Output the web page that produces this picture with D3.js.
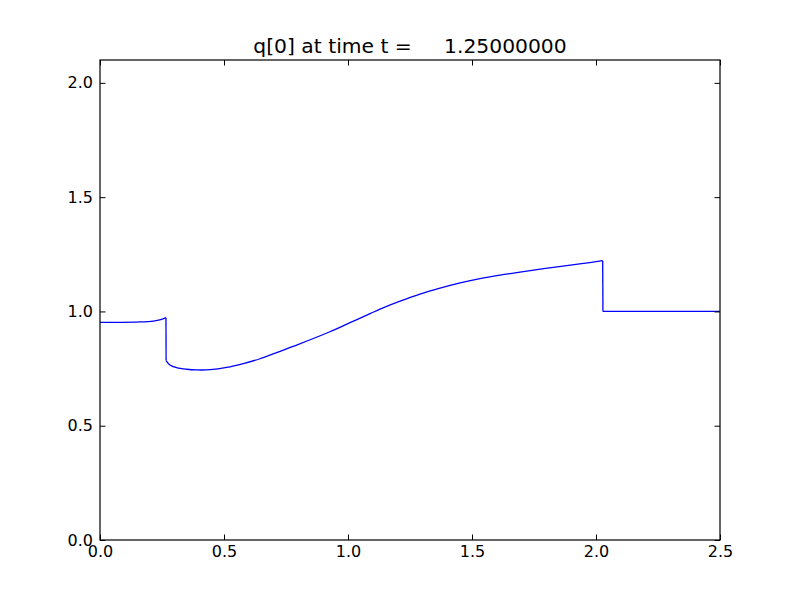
<!DOCTYPE html>
<html><head><meta charset="utf-8">
<script src="https://cdn.jsdelivr.net/npm/d3@7"></script>
<style>body{margin:0;background:#fff;} text{font-family:"DejaVu Sans",sans-serif;}</style>
</head><body><svg id="c" width="800" height="600"></svg>
<script>
const title = "q[0] at time t =     1.25000000";
const xTicks = [0.0, 0.5, 1.0, 1.5, 2.0, 2.5];
const yTicks = [0.0, 0.5, 1.0, 1.5, 2.0];
const xs = [0.0, 0.08, 0.161, 0.215, 0.245, 0.266, 0.2665, 0.282, 0.309, 0.349, 0.390, 0.444, 0.511, 0.578, 0.645, 0.793, 0.927, 1.008, 1.089, 1.129, 1.21, 1.29, 1.371, 1.452, 1.532, 1.613, 1.714, 1.828, 1.942, 2.027, 2.028, 2.5];
const qs = [0.952, 0.952, 0.954, 0.958, 0.964, 0.9725, 0.785, 0.766, 0.754, 0.747, 0.744, 0.745, 0.755, 0.772, 0.793, 0.853, 0.911, 0.951, 0.990, 1.010, 1.045, 1.076, 1.102, 1.125, 1.144, 1.159, 1.175, 1.193, 1.209, 1.222, 1.0, 1.0];
const jumps = [5, 29]; // indices after which the solution jumps (shocks)

const svg = d3.select("#c");
const L=100, R=720, T=60, B=540;
const x = d3.scaleLinear().domain([0,2.5]).range([L,R]);
const y = d3.scaleLinear().domain([0,2.1]).range([B,T]);

const pts = xs.map((v,i)=>[v,qs[i]]);
const smooth = d3.line().curve(d3.curveCatmullRom.alpha(0.5)).x(d=>x(d[0])).y(d=>y(d[1]));
const lin = d3.line().x(d=>x(d[0])).y(d=>y(d[1]));
const bounds = [0, ...jumps.map(j=>j+1), pts.length];
let dstr = "";
for (let s=0; s<bounds.length-1; s++) {
  const seg = pts.slice(bounds[s], bounds[s+1]);
  dstr += smooth(seg);
}
const g = svg.append("g");
g.append("path").attr("d", dstr)
  .attr("fill","none").attr("stroke","#0000ff").attr("stroke-width",1.3);
jumps.forEach(j=>{
  g.append("path").attr("d", lin([pts[j], pts[j+1]]))
    .attr("fill","none").attr("stroke","#0000ff").attr("stroke-width",1.3);
});

svg.append("rect").attr("x",L).attr("y",T).attr("width",R-L).attr("height",B-T)
  .attr("fill","none").attr("stroke","#000").attr("stroke-width",1.2);

const fs = 16;
const tk = 5.5;
const xb = svg.append("g").attr("transform",`translate(0,${B})`)
  .call(d3.axisBottom(x).tickValues(xTicks).tickFormat(d3.format(".1f")).tickSizeInner(-tk).tickSizeOuter(0).tickPadding(5.5));
const xt = svg.append("g").attr("transform",`translate(0,${T})`)
  .call(d3.axisTop(x).tickValues(xTicks).tickFormat("").tickSizeInner(-tk).tickSizeOuter(0));
const yl = svg.append("g").attr("transform",`translate(${L},0)`)
  .call(d3.axisLeft(y).tickValues(yTicks).tickFormat(d3.format(".1f")).tickSizeInner(-tk).tickSizeOuter(0).tickPadding(7));
const yr = svg.append("g").attr("transform",`translate(${R},0)`)
  .call(d3.axisRight(y).tickValues(yTicks).tickFormat("").tickSizeInner(-tk).tickSizeOuter(0));
[xb,xt,yl,yr].forEach(g=>{
  g.select(".domain").remove();
  g.selectAll("line").attr("stroke","#000");
  g.selectAll("text").attr("font-size",fs).attr("fill","#000").attr("font-family","DejaVu Sans");
});

svg.append("text").attr("x",(L+R)/2).attr("y",53).attr("text-anchor","middle")
  .attr("font-size",20.3).attr("font-family","DejaVu Sans").attr("fill","#000")
  .style("white-space","pre").text(title);
</script></body></html>
